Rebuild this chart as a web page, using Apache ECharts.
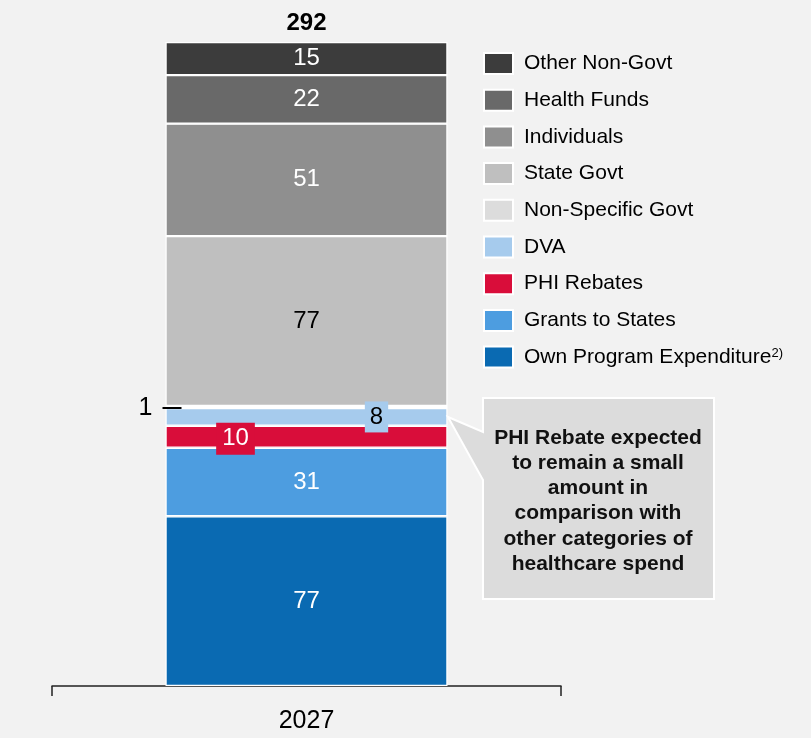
<!DOCTYPE html>
<html>
<head>
<meta charset="utf-8">
<script src="https://cdn.jsdelivr.net/npm/echarts@6/dist/echarts.min.js"></script>
<style>
html,body{margin:0;padding:0;background:#f2f2f2;}
#chart{width:811px;height:738px;}
</style>
</head>
<body>
<div id="chart"></div>
<script>
// ---- data ----
const categories = ['2027'];
const ownProgram = [77];
const grantsToStates = [31];
const phiRebates = [10];
const dva = [8];
const nonSpecificGovt = [1];
const stateGovt = [77];
const individuals = [51];
const healthFunds = [22];
const otherNonGovt = [15];
const seriesNames = ['Own Program Expenditure', 'Grants to States', 'PHI Rebates', 'DVA',
  'Non-Specific Govt', 'State Govt', 'Individuals', 'Health Funds', 'Other Non-Govt'];
const seriesValues = [ownProgram, grantsToStates, phiRebates, dva, nonSpecificGovt,
  stateGovt, individuals, healthFunds, otherNonGovt];
const calloutText = 'PHI Rebate expected\nto remain a small\namount in\ncomparison with\nother categories of\nhealthcare spend';

// ---- styles ----
const colors = ['#0a6ab2', '#4d9de0', '#d90d3a', '#a6cbed', '#dcdcdc', '#bfbfbf', '#8f8f8f', '#696969', '#3c3c3c'];
const FONT = 'Liberation Sans, Arial, sans-serif';

const totals = categories.map((c, i) => seriesValues.reduce((s, arr) => s + arr[i], 0));

const baseLabel = { show: true, position: 'inside', color: '#fff', fontSize: 24, fontFamily: FONT };
const labelOverrides = {
  'PHI Rebates': { backgroundColor: '#d90d3a', padding: [4, 6, 4, 6], offset: [-71, 2] },
  'DVA': { color: '#000', backgroundColor: '#a6cbed', padding: [4, 5, 3, 5], offset: [70, 0] },
  'Non-Specific Govt': { position: 'left', distance: 0, offset: [16, 1], color: '#000',
    formatter: '{n|{c}}{g|}{l|}',
    rich: { n: { fontSize: 25, color: '#000', fontFamily: FONT }, g: { width: 10, height: 1 },
      l: { width: 19, height: 2, backgroundColor: '#000' } } },
  'State Govt': { color: '#000' }
};

const series = seriesNames.map((name, k) => ({
  name: name,
  type: 'bar',
  stack: 'total',
  barWidth: 282,
  data: seriesValues[k],
  itemStyle: { color: colors[k], borderColor: '#ffffff', borderWidth: 1.2 },
  label: Object.assign({}, baseLabel, labelOverrides[name] || {}),
  emphasis: { disabled: true }
}));
series.push({
  name: 'Total',
  type: 'bar',
  barWidth: 282,
  barGap: '-100%',
  data: totals,
  silent: true,
  z: 1,
  itemStyle: { color: 'rgba(0,0,0,0)', borderWidth: 0 },
  label: { show: true, position: 'top', distance: 7, color: '#000', fontWeight: 'bold', fontSize: 24, fontFamily: FONT }
});

const chart = echarts.init(document.getElementById('chart'), null, { renderer: 'canvas' });
chart.setOption({
  backgroundColor: '#f2f2f2',
  animation: false,
  grid: { left: 52, right: 250, top: 42, bottom: 52 },
  xAxis: {
    type: 'category',
    data: categories,
    axisLine: { lineStyle: { color: '#222', width: 1.5 } },
    axisTick: { show: true, length: 10, lineStyle: { color: '#222', width: 1.5 } },
    axisLabel: { color: '#000', fontSize: 25, fontFamily: FONT, margin: 23 }
  },
  yAxis: { type: 'value', min: 0, max: 292, show: false, splitLine: { show: false } },
  legend: {
    orient: 'vertical',
    left: 483,
    top: 52,
    padding: 0,
    itemWidth: 29,
    itemHeight: 21,
    itemGap: 13.7,
    icon: 'rect',
    selectedMode: false,
    data: seriesNames.slice().reverse(),
    formatter: function (n) {
      return n === 'Own Program Expenditure' ? '{t|' + n + '}{s|2)}' : n;
    },
    textStyle: {
      color: '#000', fontSize: 21, fontFamily: FONT, padding: [0, 0, 0, 6],
      rich: {
        t: { fontSize: 21, fontFamily: FONT, color: '#000' },
        s: { fontSize: 13, fontFamily: FONT, color: '#000', verticalAlign: 'top', padding: [0, 0, 8, 0] }
      }
    }
  },
  series: series,
  graphic: [
    {
      type: 'polygon',
      shape: { points: [[448, 417], [483, 432], [483, 398], [714, 398], [714, 599], [483, 599], [483, 480]] },
      style: { fill: '#dcdcdc', stroke: '#ffffff', lineWidth: 2 },
      z: 10
    },
    {
      type: 'text',
      x: 598, y: 501,
      style: {
        text: calloutText, fill: '#111', font: 'bold 21px ' + FONT,
        textAlign: 'center', textVerticalAlign: 'middle', lineHeight: 25.3
      },
      z: 11
    }
  ]
});
</script>
</body>
</html>
